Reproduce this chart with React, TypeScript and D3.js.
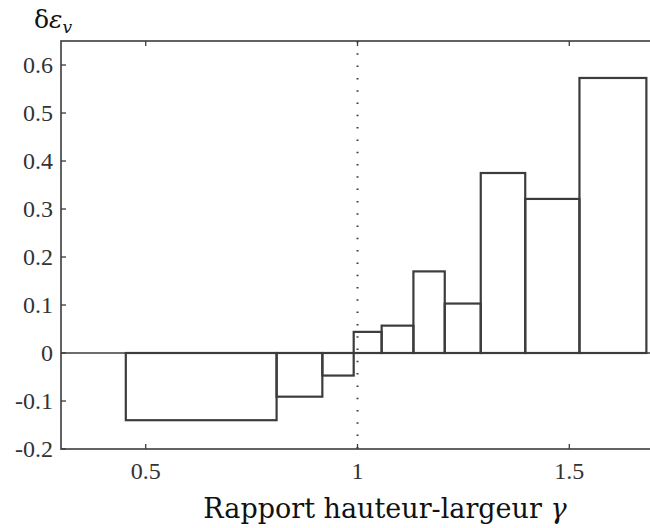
import React from 'react';
import * as d3 from 'd3';

const binEdges = [0.453, 0.809, 0.917, 0.991, 1.057, 1.132, 1.206, 1.291, 1.396, 1.524, 1.682];
const binValues = [-0.14, -0.091, -0.047, 0.044, 0.057, 0.17, 0.103, 0.375, 0.321, 0.573];
const xTicks = [0.5, 1, 1.5];
const xTickLabels = ['0.5', '1', '1.5'];
const yTicks = [-0.2, -0.1, 0, 0.1, 0.2, 0.3, 0.4, 0.5, 0.6];
const yTickLabels = ['-0.2', '-0.1', '0', '0.1', '0.2', '0.3', '0.4', '0.5', '0.6'];
const xDomain = [0.3, 1.7];
const yDomain = [-0.2, 0.65];

const W = 650;
const H = 528;
const LEFT = 61;
const RIGHT = 654;
const TOP = 41;
const BOTTOM = 449;

export default function App() {
  const x = d3.scaleLinear().domain(xDomain).range([LEFT, RIGHT]);
  const y = d3.scaleLinear().domain(yDomain).range([BOTTOM, TOP]);
  const ink = '#3c3c3c';
  const tickFont = 'Liberation Serif';
  const labelFont = 'DejaVu Serif';
  const bars = binValues.map((v, i) => ({ x0: binEdges[i], x1: binEdges[i + 1], v }));
  return (
    <svg width={W} height={H} style={{ position: 'absolute', left: 0, top: 0, background: '#fff' }}>
      <rect x={0} y={0} width={W} height={H} fill="#fff" />
      <line x1={x(1)} x2={x(1)} y1={TOP} y2={BOTTOM} stroke={ink} strokeWidth={2} strokeDasharray="1.5 10.8" />
      <line x1={LEFT} x2={RIGHT} y1={y(0)} y2={y(0)} stroke={ink} strokeWidth={1.6} />
      {bars.map((b, i) => (
        <rect
          key={i}
          x={x(b.x0)}
          width={x(b.x1) - x(b.x0)}
          y={y(Math.max(0, b.v))}
          height={Math.abs(y(b.v) - y(0))}
          fill="none"
          stroke={ink}
          strokeWidth={2.2}
        />
      ))}
      <rect x={LEFT} y={TOP} width={RIGHT - LEFT} height={BOTTOM - TOP} fill="none" stroke={ink} strokeWidth={1.6} />
      {xTicks.map((t, i) => (
        <g key={'xt' + i}>
          <line x1={x(t)} x2={x(t)} y1={BOTTOM} y2={BOTTOM - 5} stroke={ink} strokeWidth={1.3} />
          <line x1={x(t)} x2={x(t)} y1={TOP} y2={TOP + 5} stroke={ink} strokeWidth={1.3} />
          <text x={x(t)} y={479} textAnchor="middle" fontFamily={tickFont} fontSize={24} fill="#333">
            {xTickLabels[i]}
          </text>
        </g>
      ))}
      {yTicks.map((t, i) => (
        <g key={'yt' + i}>
          <line x1={LEFT} x2={LEFT + 5} y1={y(t)} y2={y(t)} stroke={ink} strokeWidth={1.3} />
          <text x={53} y={y(t)} dy="0.35em" textAnchor="end" fontFamily={tickFont} fontSize={24} fill="#333">
            {yTickLabels[i]}
          </text>
        </g>
      ))}
      <text x={34} y={28} fontFamily={labelFont} fontSize={25} fill="#111">
        δ<tspan fontStyle="italic">ε</tspan>
        <tspan fontStyle="italic" fontSize={17} dy={5}>v</tspan>
      </text>
      <text x={385} y={518} textAnchor="middle" fontFamily={labelFont} fontSize={27} fill="#111">
        Rapport hauteur-largeur <tspan fontStyle="italic">γ</tspan>
      </text>
    </svg>
  );
}
